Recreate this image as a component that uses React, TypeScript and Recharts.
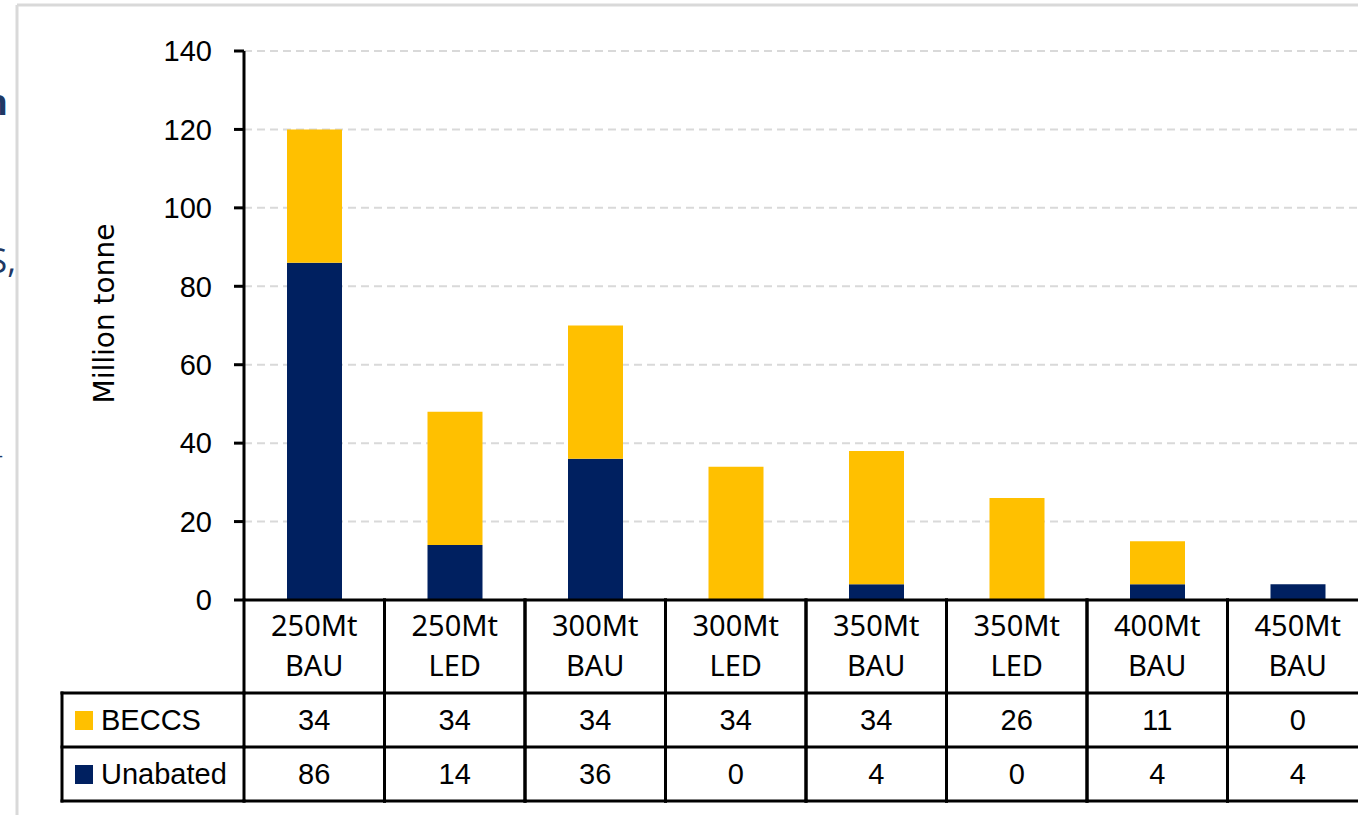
import React from 'react';
import { BarChart, Bar, XAxis, YAxis, CartesianGrid } from 'recharts';

// Scenario categories (two-line labels)
const categoryTop = ['250Mt', '250Mt', '300Mt', '300Mt', '350Mt', '350Mt', '400Mt', '450Mt'];
const categoryBottom = ['BAU', 'LED', 'BAU', 'LED', 'BAU', 'LED', 'BAU', 'BAU'];

// Series values, million tonne
const beccs = [34, 34, 34, 34, 34, 26, 11, 0];
const unabated = [86, 14, 36, 0, 4, 0, 4, 4];

const yTicks = [0, 20, 40, 60, 80, 100, 120, 140];

const seriesNames = { beccs: 'BECCS', unabated: 'Unabated' };
const BECCS_COLOR = '#FFC000';
const UNABATED_COLOR = '#002060';

const data = categoryTop.map((top, i) => ({
  name: `${top} ${categoryBottom[i]}`,
  top,
  bottom: categoryBottom[i],
  beccs: beccs[i],
  unabated: unabated[i],
}));

const NUM_FONT = '"Liberation Sans", Arial, sans-serif';
const CAT_FONT = '"Noto Sans", "Liberation Sans", sans-serif';
const LINE = '#000';
const LW = 3;

// Table rows under the plot: category header, BECCS row, Unabated row
const HEADER_H = 93;
const ROW_H = 54;
const LEGEND_COL_W = 182;

const TableTick = (props: any) => {
  const { x, y, payload, index, width, visibleTicksCount } = props;
  const colW =
    payload && payload.offset ? payload.offset * 2 : (width || 1124) / (visibleTicksCount || 8);
  const left = x - colW / 2;
  const right = x + colW / 2;
  const r1 = y + HEADER_H;
  const r2 = r1 + ROW_H;
  const r3 = r2 + ROW_H;
  const d = data[index];
  const lineProps = { stroke: LINE, strokeWidth: LW, strokeLinecap: 'square' as const };
  return (
    <g>
      <line x1={left} y1={y} x2={left} y2={r3} {...lineProps} />
      <line x1={right} y1={y} x2={right} y2={r3} {...lineProps} />
      <line x1={left} y1={r1} x2={right} y2={r1} {...lineProps} />
      <line x1={left} y1={r2} x2={right} y2={r2} {...lineProps} />
      <line x1={left} y1={r3} x2={right} y2={r3} {...lineProps} />
      <text x={x} y={y + 24} textAnchor="middle" dominantBaseline="central" fontFamily={CAT_FONT} fontSize={29} fill="#000">
        {d.top}
      </text>
      <text x={x} y={y + 64} textAnchor="middle" dominantBaseline="central" fontFamily={CAT_FONT} fontSize={29} fill="#000">
        {d.bottom}
      </text>
      <text x={x} y={r1 + ROW_H / 2} textAnchor="middle" dominantBaseline="central" fontFamily={NUM_FONT} fontSize={29} fill="#000">
        {d.beccs}
      </text>
      <text x={x} y={r2 + ROW_H / 2} textAnchor="middle" dominantBaseline="central" fontFamily={NUM_FONT} fontSize={29} fill="#000">
        {d.unabated}
      </text>
      {index === 0 && (
        <g>
          <line x1={left - LEGEND_COL_W} y1={r1} x2={left} y2={r1} {...lineProps} />
          <line x1={left - LEGEND_COL_W} y1={r2} x2={left} y2={r2} {...lineProps} />
          <line x1={left - LEGEND_COL_W} y1={r3} x2={left} y2={r3} {...lineProps} />
          <line x1={left - LEGEND_COL_W} y1={r1} x2={left - LEGEND_COL_W} y2={r3} {...lineProps} />
          <rect x={left - LEGEND_COL_W + 13} y={r1 + ROW_H / 2 - 9} width={18} height={19} fill={BECCS_COLOR} />
          <text x={left - LEGEND_COL_W + 39} y={r1 + ROW_H / 2} dominantBaseline="central" fontFamily={NUM_FONT} fontSize={29} fill="#000">
            {seriesNames.beccs}
          </text>
          <rect x={left - LEGEND_COL_W + 13} y={r2 + ROW_H / 2 - 9} width={18} height={19} fill={UNABATED_COLOR} />
          <text x={left - LEGEND_COL_W + 39} y={r2 + ROW_H / 2} dominantBaseline="central" fontFamily={NUM_FONT} fontSize={29} fill="#000">
            {seriesNames.unabated}
          </text>
        </g>
      )}
    </g>
  );
};

const YLabel = (props: any) => {
  const vb = props.viewBox || { x: 164, y: 51, width: 80, height: 549 };
  const cx = vb.x - 60;
  const cy = vb.y + vb.height / 2 - 12;
  return (
    <text
      x={cx}
      y={cy}
      transform={`rotate(-90, ${cx}, ${cy})`}
      textAnchor="middle"
      dominantBaseline="central"
      fontFamily='"DejaVu Sans", sans-serif'
      fontSize={28}
      fill="#000"
    >
      Million tonne
    </text>
  );
};

export default function App() {
  return (
    <div
      style={{
        position: 'absolute',
        left: 0,
        top: 0,
        width: 1358,
        height: 815,
        overflow: 'hidden',
        background: '#fff',
      }}
    >
      <BarChart
        width={1370}
        height={815}
        data={data}
        margin={{ top: 51, right: 2, bottom: 15, left: 164 }}
        barSize={55}
      >
        <CartesianGrid vertical={false} stroke="#d9d9d9" strokeWidth={2} strokeDasharray="8 5" />
        <XAxis
          dataKey="name"
          interval={0}
          height={200}
          tickLine={false}
          tickSize={0}
          tickMargin={0}
          axisLine={{ stroke: LINE, strokeWidth: LW }}
          tick={<TableTick />}
        />
        <YAxis
          width={80}
          domain={[0, 140]}
          ticks={yTicks}
          interval={0}
          tickSize={10}
          tickMargin={22}
          axisLine={{ stroke: LINE, strokeWidth: LW }}
          tickLine={{ stroke: LINE, strokeWidth: LW }}
          tick={{ fill: '#000', fontSize: 29, fontFamily: NUM_FONT }}
          label={<YLabel />}
        />
        <Bar dataKey="unabated" stackId="s" fill={UNABATED_COLOR} isAnimationActive={false} />
        <Bar dataKey="beccs" stackId="s" fill={BECCS_COLOR} isAnimationActive={false} />
      </BarChart>
      <svg
        width={1358}
        height={815}
        style={{ position: 'absolute', left: 0, top: 0, pointerEvents: 'none' }}
      >
        <line x1={17} y1={5} x2={1358} y2={5} stroke="#d9d9d9" strokeWidth={3} />
        <line x1={17} y1={5} x2={17} y2={815} stroke="#d9d9d9" strokeWidth={3} />
        <text x={8} y={115} textAnchor="end" fontFamily='"Open Sans", sans-serif' fontWeight={700} fontSize={36} fill="#203864">
          n
        </text>
        <text x={16} y={273} textAnchor="end" fontFamily='"Open Sans", sans-serif' fontSize={34} fill="#203864">
          S,
        </text>
        <text x={3} y={462} textAnchor="end" fontFamily='"Open Sans", sans-serif' fontSize={20} fill="#203864">
          -
        </text>
      </svg>
    </div>
  );
}
